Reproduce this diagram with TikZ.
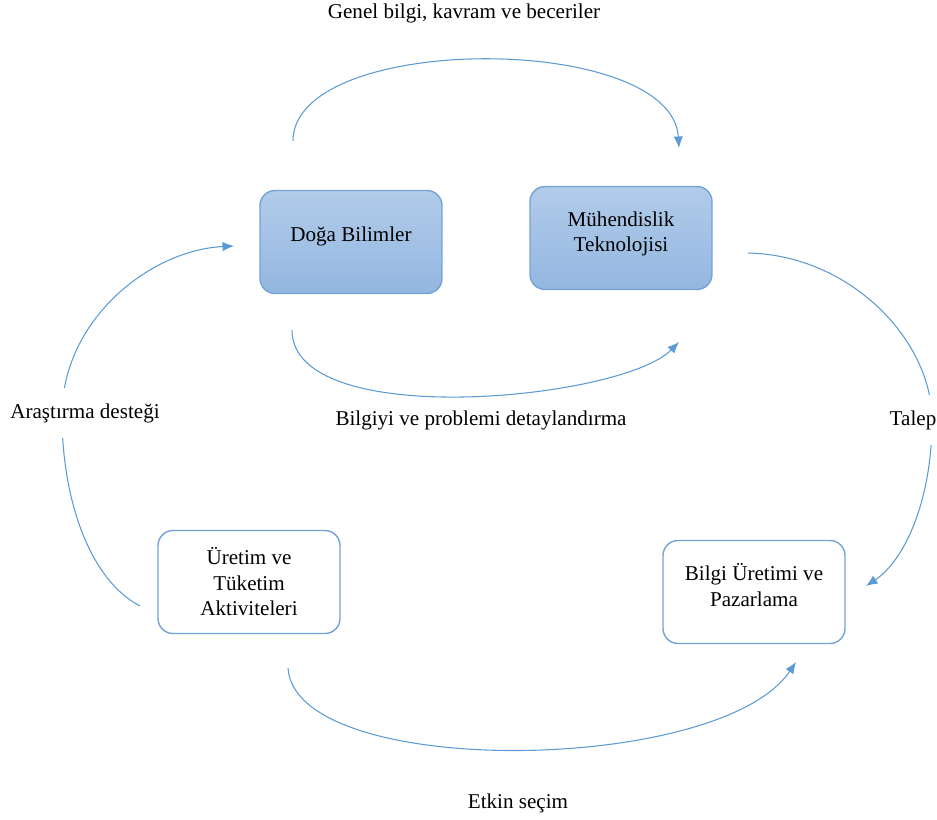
\documentclass[tikz,border=0pt]{standalone}
\usepackage{fontspec}
\setmainfont{Liberation Serif}
\usetikzlibrary{arrows.meta,positioning}
\definecolor{arcblue}{HTML}{5B9BD5}
\definecolor{boxline}{HTML}{74A3D8}
\definecolor{boxtop}{HTML}{B2CCEA}
\definecolor{boxbot}{HTML}{93B6E0}
\newcommand*{\lowpad}[1]{\rule[-#1]{0pt}{0pt}}

\begin{document}
\begin{tikzpicture}[x=0.02cm,y=-0.02cm,
  font=\fontsize{12}{14.5}\selectfont,
  card/.style={rectangle,rounded corners=0.3cm,draw=boxline,line width=0.8pt,
    minimum width=3.64cm,minimum height=2.06cm,align=center},
  bluecard/.style={card,top color=boxtop,bottom color=boxbot},
  whitecard/.style={card,fill=white},
  flow/.style={draw=arcblue,line width=0.6pt,-{Latex[length=2.3mm,width=1.9mm]}},
  cut/.style={fill=white,inner ysep=0.3cm,inner xsep=2pt}]
	\useasboundingbox (0,0) rectangle (937,819);
	% boxes
	\node[bluecard] (doga) at (351,242) {Do\u{g}a Bilimler\lowpad{9.4pt}};
	\node[bluecard] (muh) at (621,238) {Mühendislik\\Teknolojisi\lowpad{7pt}};
	\node[whitecard] (uretim) at (249,582) {Üretim ve\\Tüketim\\Aktiviteleri};
	\node[whitecard] (pazar) at (754,592) {Bilgi Üretimi ve\\Pazarlama\lowpad{8pt}};
	% arc ends
	\coordinate (a1) at (293,141); \coordinate (b1) at (679,148);
	\coordinate (a2) at (292,330); \coordinate (b2) at (679,342);
	\coordinate (a3) at (748,253); \coordinate (m3) at (932,420); \coordinate (b3) at (866,586);
	\coordinate (a4) at (288,668); \coordinate (b4) at (796,662);
	\coordinate (a5) at (140,606); \coordinate (m5) at (62,415); \coordinate (b5) at (234,246);
	% arcs
	\draw[flow] (a1) .. controls (293,32) and (672,32) .. (b1);
	\draw[flow] (a2) .. controls (292,432) and (622,400) .. (b2);
	\draw[flow] (a3) .. controls (850,255) and (932,340) .. (m3) .. controls (932,500) and (905,560) .. (b3);
	\draw[flow] (a4) .. controls (295,780) and (720,775) .. (b4);
	\draw[flow] (a5) .. controls (90,580) and (62,500) .. (m5) .. controls (62,320) and (150,250) .. (b5);
	% labels
	\node (genel) at (464,13) {Genel bilgi, kavram ve beceriler};
	\node (detay) at (481,420) {Bilgiyi ve problemi detaylandırma};
	\node[cut] (talep) at (913,420) {Talep};
	\node (etkin) at (518,803) {Etkin seçim};
	\node[cut] (destek) at (85,413) {Araştırma desteği};
\end{tikzpicture}
\end{document}
